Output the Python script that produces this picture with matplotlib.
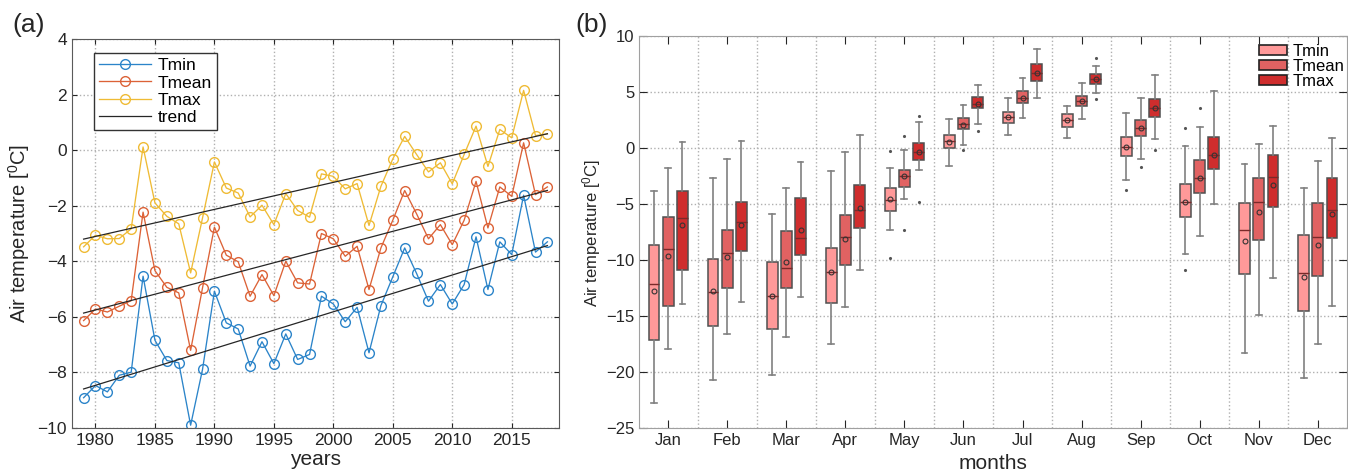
import numpy as np
from matplotlib import pyplot as plt
from matplotlib.patches import Patch

plt.rcParams['font.family'] = ['Liberation Sans', 'DejaVu Sans']
plt.rcParams['mathtext.default'] = 'regular'

# ---- (a) annual air temperature
years = np.arange(1979, 2019)
tmin = [-8.92, -8.48, -8.71, -8.11, -8.0, -4.54, -6.85, -7.58, -7.66, -9.91,
        -7.9, -5.08, -6.22, -6.44, -7.78, -6.9, -7.69, -6.62, -7.54, -7.36,
        -5.26, -5.54, -6.18, -5.66, -7.3, -5.6, -4.56, -3.52, -4.44, -5.44,
        -4.84, -5.54, -4.84, -3.12, -5.02, -3.3, -3.76, -1.62, -3.67, -3.3]
tmean = [-6.14, -5.72, -5.83, -5.62, -5.42, -2.23, -4.34, -4.94, -5.14, -7.21,
         -4.96, -2.77, -3.78, -4.02, -5.26, -4.48, -5.24, -4.0, -4.78, -4.82,
         -3.0, -3.19, -3.82, -3.46, -5.02, -3.52, -2.52, -1.45, -2.29, -3.19,
         -2.68, -3.4, -2.52, -1.12, -2.8, -1.32, -1.66, 0.27, -1.6, -1.32]
tmax = [-3.48, -3.06, -3.19, -3.18, -2.83, 0.12, -1.9, -2.38, -2.65, -4.42,
        -2.44, -0.42, -1.36, -1.54, -2.4, -1.98, -2.68, -1.56, -2.17, -2.41,
        -0.85, -0.94, -1.39, -1.2, -2.71, -1.3, -0.31, 0.5, -0.15, -0.78,
        -0.45, -1.21, -0.15, 0.87, -0.58, 0.75, 0.45, 2.16, 0.53, 0.59]

# ---- (b) monthly statistics
months = ['Jan', 'Feb', 'Mar', 'Apr', 'May', 'Jun', 'Jul', 'Aug', 'Sep', 'Oct', 'Nov', 'Dec']

tmin_q1 = [-17.1, -15.85, -16.15, -13.85, -5.6, 0.0, 2.25, 1.9, -0.7, -6.15, -11.2, -14.5]
tmin_q3 = [-8.65, -9.9, -10.15, -8.85, -3.55, 1.17, 3.3, 3.05, 1.05, -3.2, -4.9, -7.7]
tmin_med = [-12.1, -12.85, -13.2, -11.0, -4.6, 0.65, 2.8, 2.5, 0.15, -4.75, -7.25, -11.1]
tmin_mean = [-12.7, -12.7, -13.15, -11.0, -4.5, 0.55, 2.8, 2.5, 0.15, -4.75, -8.25, -11.5]
tmin_lo = [-22.7, -20.7, -20.2, -17.45, -7.3, -1.55, 1.2, 0.95, -2.8, -9.4, -18.3, -20.5]
tmin_hi = [-3.8, -2.65, -5.85, -1.98, -1.75, 2.6, 4.5, 3.8, 3.2, 0.2, -1.4, -3.55]
tmin_out = {5: [-0.2, -9.75], 9: [-3.7], 10: [1.8, -10.85]}

tmean_q1 = [-14.05, -12.45, -12.5, -10.45, -3.4, 1.7, 4.1, 3.8, 1.1, -3.95, -8.2, -11.35]
tmean_q3 = [-6.1, -7.3, -7.35, -5.95, -1.9, 2.7, 5.1, 4.65, 2.55, -1.05, -2.65, -4.85]
tmean_med = [-9.0, -9.3, -10.7, -7.95, -2.5, 2.2, 4.55, 4.2, 1.85, -2.65, -4.8, -7.9]
tmean_mean = [-9.6, -9.7, -10.15, -8.05, -2.5, 2.1, 4.55, 4.2, 1.85, -2.65, -5.7, -8.6]
tmean_lo = [-17.9, -16.6, -16.8, -14.2, -4.55, 0.35, 2.75, 2.6, -0.9, -7.85, -14.9, -17.45]
tmean_hi = [-1.75, -0.9, -3.5, -0.3, -0.15, 3.9, 6.3, 5.85, 4.5, 1.95, 0.4, -1.15]
tmean_out = {5: [1.1, -7.25], 6: [-0.1], 9: [-1.7], 10: [3.6]}

tmax_q1 = [-10.9, -9.15, -9.5, -7.15, -1.05, 3.6, 6.0, 5.75, 2.8, -1.85, -5.25, -8.0]
tmax_q3 = [-3.8, -4.8, -4.4, -3.25, 0.5, 4.6, 7.5, 6.65, 4.4, 1.05, -0.6, -2.65]
tmax_med = [-6.2, -6.6, -8.0, -5.5, -0.3, 4.0, 6.7, 6.2, 3.6, -0.6, -2.55, -5.5]
tmax_mean = [-6.85, -6.85, -7.3, -5.3, -0.3, 4.0, 6.7, 6.2, 3.6, -0.55, -3.3, -5.85]
tmax_lo = [-13.9, -13.75, -13.3, -10.9, -1.95, 2.15, 4.5, 4.95, 0.8, -5.0, -11.55, -14.05]
tmax_hi = [0.55, 0.67, -1.2, 1.2, 2.4, 5.7, 8.9, 7.4, 6.6, 5.15, 2.0, 0.95]
tmax_out = {5: [2.9, -4.8], 6: [1.55], 8: [8.1, 4.4], 9: [-0.1]}


def box_stats(q1, q3, med, mean, lo, hi, out):
    stats = []
    for i in range(len(months)):
        stats.append(dict(q1=q1[i], q3=q3[i], med=med[i], mean=mean[i],
                          whislo=lo[i], whishi=hi[i], fliers=out.get(i + 1, [])))
    return stats


fig = plt.figure(figsize=(13.48, 4.74), dpi=100)

# ---------------- panel (a)
ax = fig.add_axes([0.0532, 0.0977, 0.3617, 0.8193])
cols = ['#2b84c9', '#dc6237', '#efbb35']
for vals, c, lab in zip([tmin, tmean, tmax], cols, ['Tmin', 'Tmean', 'Tmax']):
    ax.plot(years, vals, '-o', color=c, lw=0.95, ms=7, mfc='none', mew=1.0, label=lab)
for k, vals in enumerate([tmin, tmean, tmax]):
    p = np.polyfit(years, vals, 1)
    ax.plot(years, np.polyval(p, years), color='#262626', lw=0.9,
            label='trend' if k == 0 else None)

ax.set_xlim(1978, 2019)
ax.set_ylim(-10, 4)
ax.set_xticks(np.arange(1980, 2016, 5))
ax.set_yticks(np.arange(-10, 5, 2))
ax.grid(True, ls=':', color='#b0b0b0', lw=1)
ax.tick_params(direction='in', top=True, right=True, labelsize=12.5, colors='#262626')
for s in ax.spines.values():
    s.set_color('#5a5a5a')
ax.set_xlabel('years', fontsize=15, color='#262626', labelpad=2)
ax.set_ylabel('Air temperature [$^0$C]', fontsize=14.5, color='#262626', labelpad=4)
leg = ax.legend(loc='upper left', bbox_to_anchor=(0.045, 0.965), fontsize=12.5,
                fancybox=False, edgecolor='#333333', framealpha=1, borderpad=0.3,
                labelspacing=0.12, handlelength=3.0, handletextpad=0.4, borderaxespad=0)
leg.get_frame().set_linewidth(1.0)
fig.text(0.009, 0.947, '(a)', fontsize=19, va='center', color='#262626')

# ---------------- panel (b)
bx = fig.add_axes([0.4743, 0.0964, 0.5247, 0.8266])
x = np.arange(1, 13)
series = [
    (box_stats(tmin_q1, tmin_q3, tmin_med, tmin_mean, tmin_lo, tmin_hi, tmin_out), -0.24, '#ff9999', 'Tmin'),
    (box_stats(tmean_q1, tmean_q3, tmean_med, tmean_mean, tmean_lo, tmean_hi, tmean_out), 0.0, '#e16262', 'Tmean'),
    (box_stats(tmax_q1, tmax_q3, tmax_med, tmax_mean, tmax_lo, tmax_hi, tmax_out), 0.24, '#cf2d2d', 'Tmax'),
]
handles = []
for stats, off, fc, lab in series:
    bx.bxp(stats, positions=x + off, widths=0.18, capwidths=0.1, showmeans=True,
           patch_artist=True, manage_ticks=False,
           boxprops=dict(facecolor=fc, edgecolor='#505050', lw=1.1),
           medianprops=dict(color='#7a2a2a', lw=1.0),
           whiskerprops=dict(color='#808080', lw=1.2),
           capprops=dict(color='#808080', lw=1.2),
           meanprops=dict(marker='o', ms=3.5, mfc='none', mec='#333333', mew=0.8),
           flierprops=dict(marker='.', ms=2.5, mfc='#555555', mec='#555555'))
    handles.append(Patch(facecolor=fc, edgecolor='#222222', lw=1.2, label=lab))

bx.set_xlim(0.51, 12.49)
bx.set_ylim(-25, 10)
bx.set_xticks(x)
bx.set_xticklabels(months)
bx.set_yticks(np.arange(-25, 11, 5))
bx.set_xticks(np.arange(1.5, 12, 1), minor=True)
bx.grid(True, axis='y', ls=':', color='#b0b0b0', lw=1)
bx.grid(True, axis='x', which='minor', ls=':', color='#b0b0b0', lw=1)
bx.tick_params(which='major', direction='in', top=True, right=True, length=6,
               labelsize=12, colors='#262626')
bx.tick_params(which='minor', length=0)
for s in bx.spines.values():
    s.set_color('#a0a0a0')
bx.set_xlabel('months', fontsize=15, color='#262626', labelpad=4)
bx.set_ylabel('Air temperature [$^0$C]', fontsize=12, color='#262626', labelpad=2)
bx.legend(handles=handles, loc='upper right', bbox_to_anchor=(1.0, 0.985), fontsize=12,
          frameon=False, labelspacing=0.0, handlelength=1.7, handleheight=0.55,
          handletextpad=0.35, borderaxespad=0, borderpad=0.1)
fig.text(0.4265, 0.947, '(b)', fontsize=19, va='center', color='#262626')

fig.savefig('out.png', dpi=100)
